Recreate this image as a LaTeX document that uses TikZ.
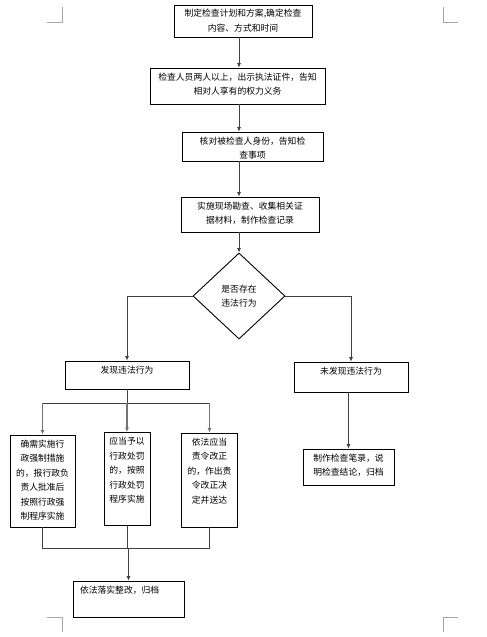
\documentclass[tikz,border=0pt]{standalone}
\usepackage{fontspec}
\newfontfamily\cjk{Noto Sans CJK SC}
\usepackage{tikz}
\usetikzlibrary{shapes.geometric, arrows.meta, positioning, calc}

% text set at the top of a box of fixed size
\newcommand{\toptext}[3]{\parbox[c][#2][t]{#1}{\centering\rule{0pt}{12pt}#3}}
\newcommand{\lefttext}[3]{\parbox[c][#2][t]{#1}{\raggedright\rule{0pt}{12pt}\hspace{7pt}#3}}

\begin{document}
\begin{tikzpicture}[
    x=1pt, y=-1pt,
    font=\cjk\fontsize{8.8}{14.5}\selectfont,
    stepbox/.style={rectangle, draw=black, line width=0.9pt, inner sep=0pt, fill=white},
    decide/.style={diamond, draw=black, line width=0.9pt, inner sep=0pt, align=center, minimum width=92pt, minimum height=86pt},
    flow/.style={draw=black!75, line width=0.7pt},
    flowarrow/.style={flow, -{Latex[length=4.5pt, width=4pt]}},
    grayarrow/.style={draw=black!55, line width=1.4pt, -{Latex[length=4.5pt, width=4pt]}},
    cropmark/.style={draw=black!35, line width=0.8pt}
  ]
  \useasboundingbox (0,0) rectangle (487,637);

  % page corner marks
  \draw[cropmark] (47,22) -- (62,22) -- (62,7);
  \draw[cropmark] (458,22) -- (443,22) -- (443,7);
  \draw[cropmark] (47,617) -- (62,617) -- (62,632);
  \draw[cropmark] (458,617) -- (443,617) -- (443,632);

  % main column
  \coordinate (spine) at (239,0);
  \node[stepbox] (plan) at (243,21) {\toptext{138pt}{32pt}{制定检查计划和方案,确定检查\\内容、方式和时间}};
  \node[stepbox] (staff) at (237.5,86) {\toptext{175pt}{36pt}{检查人员两人以上，出示执法证件，告知\\相对人享有的权力义务}};
  \node[stepbox] (verify) at (252.5,146.5) {\toptext{141pt}{29pt}{核对被检查人身份，告知检\\查事项}};
  \node[stepbox] (survey) at (250,214.5) {\toptext{138pt}{35pt}{实施现场勘查、收集相关证\\据材料，制作检查记录}};
  \node[decide] (judge) at (239,296) {是否存在\\违法行为};

  \draw[flowarrow] (plan.south -| spine) -- (staff.north -| spine);
  \draw[flowarrow] (staff.south -| spine) -- (verify.north -| spine);
  \draw[flowarrow] (verify.south -| spine) -- (survey.north -| spine);
  \draw[flowarrow] (survey.south -| spine) -- (judge.north);

  % two outcomes
  \node[stepbox] (found) at (127,375) {\toptext{124pt}{28pt}{发现违法行为}};
  \node[stepbox] (notfound) at (351,377) {\toptext{114pt}{30pt}{未发现违法行为}};
  \draw[flowarrow] (judge.west) -| (found.north);
  \draw[flowarrow] (judge.east) -| (notfound.north);

  % measures
  \node[stepbox] (force) at (42.5,481) {\toptext{65pt}{92pt}{确需实施行\\政强制措施\\的，报行政负\\责人批准后\\按照行政强\\制程序实施}};
  \node[stepbox] (punish) at (127,479) {\toptext{46pt}{93pt}{应当予以\\行政处罚\\的，按照\\行政处罚\\程序实施}};
  \node[stepbox] (correct) at (209.5,480) {\toptext{56pt}{94pt}{依法应当\\责令改正\\的，作出责\\令改正决\\定并送达}};

  \coordinate (split) at (127,403);
  \draw[flow] (found.south) -- (split);
  \draw[flow] (force.north |- split) -- (correct.north |- split);
  \draw[grayarrow] (force.north |- split) -- (force.north);
  \draw[grayarrow] (punish.north |- split) -- (punish.north);
  \draw[grayarrow] (correct.north |- split) -- (correct.north);

  % closing steps
  \node[stepbox] (record) at (348.5,467) {\toptext{91pt}{36pt}{制作检查笔录，说\\明检查结论，归档}};
  \node[stepbox] (rectify) at (128.5,599) {\lefttext{111pt}{36pt}{依法落实整改，归档}};

  \draw[flowarrow] (notfound.south -| record.north) -- (record.north);

  \coordinate (merge) at (128,548);
  \draw[flow] (force.south) -- (force.south |- merge) -- (correct.south |- merge) -- (correct.south);
  \draw[flow] (punish.south) -- (punish.south |- merge);
  \draw[flowarrow] (rectify.north |- merge) -- (rectify.north);

\end{tikzpicture}
\end{document}
